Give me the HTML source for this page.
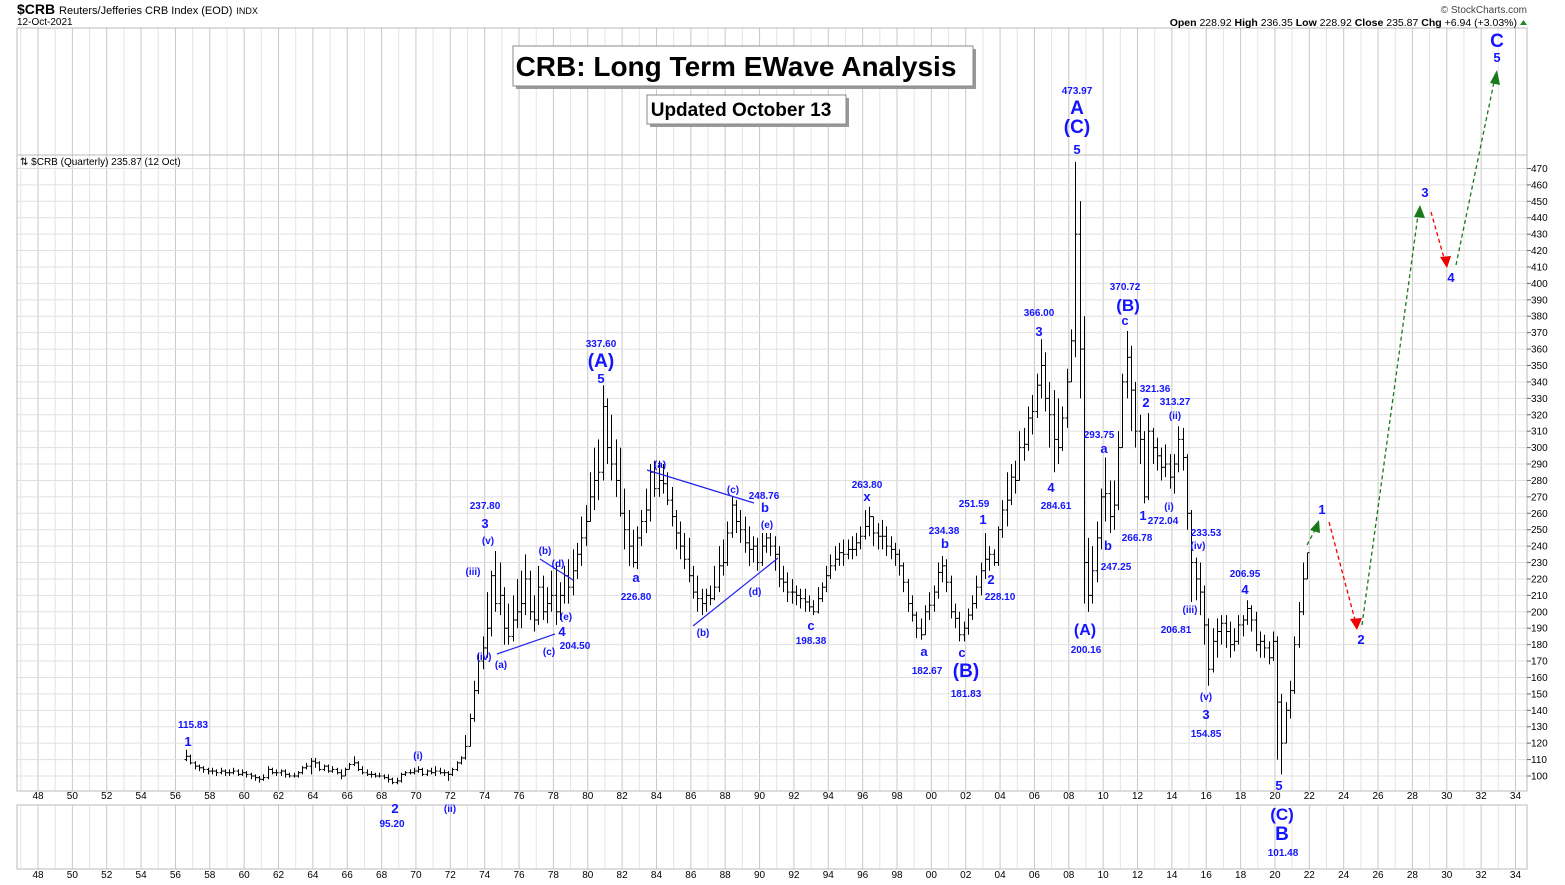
<!DOCTYPE html>
<html><head><meta charset="utf-8">
<style>
body{margin:0;background:#fff;}
svg{display:block;font-family:"Liberation Sans",Arial,sans-serif;}
.lb{fill:#1414ff;font-weight:bold;text-anchor:middle;}
.s{font-size:10px;}
.m{font-size:13px;}
.b{font-size:19px;}
</style></head><body>
<svg id="chart" width="1565" height="885" viewBox="0 0 1565 885">
<rect width="1565" height="885" fill="#fff"/>
<g id="grid"></g>
<rect x="17" y="28" width="1510" height="763" fill="none" stroke="#bbb"/>
<line x1="17" y1="155" x2="1527" y2="155" stroke="#bbb"/>
<rect x="17" y="805" width="1510" height="64" fill="none" stroke="#bbb"/>
<g id="axes"></g>
<g id="bars"></g>

<text x="17" y="14" font-size="14" font-weight="bold">$CRB <tspan font-size="11" font-weight="normal">Reuters/Jefferies CRB Index (EOD)</tspan> <tspan font-size="9" font-weight="normal">INDX</tspan></text>
<text x="17" y="25" font-size="10">12-Oct-2021</text>
<text x="1527" y="13" font-size="10" text-anchor="end" fill="#444">© StockCharts.com</text>
<text x="1517" y="26" font-size="10.5" text-anchor="end"><tspan font-weight="bold">Open</tspan> 228.92 <tspan font-weight="bold">High</tspan> 236.35 <tspan font-weight="bold">Low</tspan> 228.92 <tspan font-weight="bold">Close</tspan> 235.87 <tspan font-weight="bold">Chg</tspan> +6.94 (+3.03%)</text>
<polygon points="1520,25 1527,25 1523.5,20" fill="#1a8a1a"/>
<text x="20" y="165" font-size="10">⇅ $CRB (Quarterly) 235.87 (12 Oct)</text>

<rect x="516" y="49" width="460" height="40" fill="#999"/>
<rect x="513" y="46" width="460" height="40" fill="#fff" stroke="#888"/>
<text x="736" y="76" font-size="28" font-weight="bold" text-anchor="middle">CRB: Long Term EWave Analysis</text>
<rect x="650" y="98" width="199" height="29" fill="#999"/>
<rect x="647" y="95" width="199" height="29" fill="#fff" stroke="#888"/>
<text x="741" y="116" font-size="19" font-weight="bold" text-anchor="middle">Updated October 13</text>

<g stroke="#2222ee" stroke-width="1.2">
<line x1="497" y1="654" x2="555" y2="634"/><line x1="540" y1="559" x2="573" y2="580"/>
<line x1="647" y1="470" x2="754" y2="503"/><line x1="693" y1="626" x2="778" y2="558"/>
</g>
<g fill="none" stroke-width="1.3" stroke-dasharray="4,3">
<line x1="1307" y1="545" x2="1316" y2="528" stroke="#1a7a1a"/>
<line x1="1329" y1="522" x2="1355" y2="620" stroke="#e00"/>
<line x1="1362" y1="625" x2="1418" y2="215" stroke="#1a7a1a"/>
<line x1="1431" y1="212" x2="1444" y2="258" stroke="#e00"/>
<line x1="1456" y1="265" x2="1494" y2="82" stroke="#1a7a1a"/>
</g>
<g>
<polygon points="1319,520 1310,530 1320,533" fill="#1a7a1a"/>
<polygon points="1357,630 1350,619 1362,618" fill="#e00"/>
<polygon points="1420,205 1414,217 1425,218" fill="#1a7a1a"/>
<polygon points="1447,268 1440,257 1451,256" fill="#e00"/>
<polygon points="1497,70 1490,83 1500,85" fill="#1a7a1a"/>
</g>

<g>
<text class="lb s" x="193" y="728">115.83</text><text class="lb m" x="188" y="746">1</text>
<text class="lb m" x="395" y="813">2</text><text class="lb s" x="392" y="827">95.20</text>
<text class="lb s" x="418" y="759">(i)</text><text class="lb s" x="450" y="812">(ii)</text>
<text class="lb s" x="473" y="575">(iii)</text><text class="lb s" x="485" y="509">237.80</text><text class="lb m" x="485" y="528">3</text>
<text class="lb s" x="488" y="544">(v)</text><text class="lb s" x="484" y="660">(iv)</text><text class="lb s" x="501" y="668">(a)</text>
<text class="lb s" x="545" y="554">(b)</text><text class="lb s" x="558" y="567">(d)</text><text class="lb s" x="566" y="620">(e)</text>
<text class="lb m" x="562" y="636">4</text><text class="lb s" x="549" y="655">(c)</text><text class="lb s" x="575" y="649">204.50</text>
<text class="lb s" x="601" y="347">337.60</text><text class="lb b" x="601" y="367">(A)</text><text class="lb m" x="601" y="383">5</text>
<text class="lb m" x="636" y="582">a</text><text class="lb s" x="636" y="600">226.80</text>
<text class="lb s" x="660" y="468">(a)</text><text class="lb s" x="703" y="636">(b)</text><text class="lb s" x="733" y="493">(c)</text>
<text class="lb s" x="764" y="499">248.76</text><text class="lb m" x="765" y="512">b</text><text class="lb s" x="767" y="528">(e)</text><text class="lb s" x="755" y="595">(d)</text>
<text class="lb m" x="811" y="630">c</text><text class="lb s" x="811" y="644">198.38</text>
<text class="lb s" x="867" y="488">263.80</text><text class="lb m" x="867" y="501">x</text>
<text class="lb m" x="924" y="656">a</text><text class="lb s" x="927" y="674">182.67</text>
<text class="lb s" x="944" y="534">234.38</text><text class="lb m" x="945" y="548">b</text>
<text class="lb m" x="962" y="657">c</text><text class="lb b" x="966" y="677">(B)</text><text class="lb s" x="966" y="697">181.83</text>
<text class="lb s" x="974" y="507">251.59</text><text class="lb m" x="983" y="524">1</text><text class="lb m" x="991" y="584">2</text><text class="lb s" x="1000" y="600">228.10</text>
<text class="lb s" x="1039" y="316">366.00</text><text class="lb m" x="1039" y="336">3</text><text class="lb m" x="1051" y="492">4</text><text class="lb s" x="1056" y="509">284.61</text>
<text class="lb s" x="1077" y="94">473.97</text><text class="lb b" x="1077" y="114">A</text><text class="lb b" x="1077" y="133">(C)</text><text class="lb m" x="1077" y="154">5</text>
<text class="lb" font-size="16" x="1085" y="635">(A)</text><text class="lb s" x="1086" y="653">200.16</text>
<text class="lb s" x="1099" y="438">293.75</text><text class="lb m" x="1104" y="453">a</text><text class="lb m" x="1108" y="550">b</text>
<text class="lb s" x="1116" y="570">247.25</text><text class="lb s" x="1137" y="541">266.78</text>
<text class="lb s" x="1125" y="290">370.72</text><text class="lb" font-size="17" x="1128" y="311">(B)</text><text class="lb m" x="1125" y="325">c</text>
<text class="lb s" x="1155" y="392">321.36</text><text class="lb m" x="1146" y="407">2</text><text class="lb s" x="1175" y="405">313.27</text><text class="lb s" x="1175" y="419">(ii)</text>
<text class="lb m" x="1143" y="520">1</text><text class="lb s" x="1163" y="524">272.04</text><text class="lb s" x="1169" y="510">(i)</text>
<text class="lb s" x="1206" y="536">233.53</text><text class="lb s" x="1198" y="549">(iv)</text><text class="lb s" x="1190" y="613">(iii)</text><text class="lb s" x="1176" y="633">206.81</text>
<text class="lb s" x="1206" y="700">(v)</text><text class="lb m" x="1206" y="719">3</text><text class="lb s" x="1206" y="737">154.85</text>
<text class="lb s" x="1245" y="577">206.95</text><text class="lb m" x="1245" y="594">4</text>
<text class="lb m" x="1279" y="790">5</text><text class="lb" font-size="17" x="1282" y="820">(C)</text><text class="lb b" x="1282" y="840">B</text><text class="lb s" x="1283" y="856">101.48</text>
<text class="lb m" x="1322" y="514">1</text><text class="lb m" x="1361" y="644">2</text><text class="lb m" x="1425" y="197">3</text><text class="lb m" x="1451" y="282">4</text>
<text class="lb b" x="1497" y="47">C</text><text class="lb m" x="1497" y="62">5</text>
</g>
</svg>
<script>
// Quarterly bars starting 1956 Q3
const startYear = 1956.5;
const closes = [112,108,
106,105,104,103, 103,102,103,102, 102,103,101,102, 101,100,99,98, 99,104,102,102,
103,101,100,100, 102,105,106,109, 108,104,106,103, 104,102,100,104, 107,108,104,102,
101,101,100,100, 99,98,96,97, 101,102,102,103, 104,101,103,102, 103,102,102,101,
104,108,111,118, 135,152,170,178, 190,222,205,210, 190,185,195,200, 205,220,200,195,
215,200,205,210, 200,210,222,215, 225,235,245,255, 270,280,285,325, 300,290,280,260,
250,240,230,245, 255,262,285,275, 280,278,268,258, 248,240,232,222, 212,208,205,210,
208,215,228,230, 248,265,255,250, 242,238,240,230, 240,245,240,235, 220,218,212,212,
210,208,206,203, 200,208,215,222, 228,232,236,235, 238,238,242,246, 252,258,248,246,
246,240,238,235, 228,218,205,198, 190,186,200,204, 212,224,228,218, 200,196,186,190,
198,205,215,225, 232,235,230,250, 262,268,282,280, 300,302,318,322, 338,350,330,320,
305,300,318,340, 365,430,360,230, 210,225,245,270, 272,258,265,300, 340,355,335,310,
305,270,310,300, 295,288,290,282, 290,305,294,260, 230,220,212,192, 165,182,188,193,
188,180,182,192, 195,202,195,180, 182,178,172,182, 145,120,140,152, 180,200,220,236];
const highs = [116,113,
109,107,106,105, 105,104,105,104, 104,105,104,104, 103,102,101,100, 101,106,105,104,
104,104,102,102, 103,106,108,111, 111,109,107,107, 106,105,104,105, 108,112,109,106,
104,103,102,102, 101,101,99,99, 102,103,104,105, 106,105,104,105, 106,105,104,103,
105,109,112,125, 138,158,175,185, 212,225,237,230, 215,205,210,220, 225,235,225,210,
228,222,215,225, 230,218,228,232, 238,242,258,265, 285,300,305,338, 330,320,305,300,
275,262,250,252, 262,275,290,292, 292,290,285,276, 262,255,248,245, 228,222,214,214,
216,228,240,244, 255,270,268,262, 258,252,246,245, 248,248,248,246, 240,228,224,220,
216,214,214,210, 207,215,218,228, 235,240,242,244, 244,246,248,252, 262,264,258,254,
256,252,246,242, 238,230,220,210, 200,196,204,212, 216,230,234,232, 222,205,200,194,
202,210,222,230, 248,240,238,252, 268,285,290,292, 310,312,325,332, 345,366,358,340,
335,330,325,348, 372,474,450,380, 245,240,255,275, 294,280,280,310, 345,371,362,340,
320,310,321,312, 306,300,302,296, 296,313,312,296, 262,233,230,216, 196,190,196,198,
198,194,190,198, 198,207,204,200, 188,186,182,188, 185,150,145,158, 185,206,230,236];
const lows = [109,107,
104,103,102,101, 101,100,101,100, 100,101,100,100, 99,98,97,96, 97,98,101,100,
100,99,99,99, 99,101,104,101, 105,103,103,102, 102,101,98,100, 104,106,103,101,
100,99,99,99, 98,96,95,95, 96,100,101,101, 102,100,100,101, 100,101,100,97,
100,103,107,110, 118,133,150,165, 172,185,200,198, 180,180,182,190, 190,198,195,188,
192,195,193,200, 192,195,205,205, 210,220,228,240, 255,262,268,280, 290,280,270,258,
238,228,227,226, 240,248,255,270, 270,272,265,252, 238,232,226,218, 208,200,198,200,
204,207,212,222, 228,245,248,242, 236,228,230,225, 228,236,234,225, 215,212,206,205,
204,202,200,200, 198,199,206,212, 220,225,228,228, 232,232,234,238, 244,246,240,238,
238,234,232,228, 222,212,200,194, 184,183,186,195, 200,208,218,212, 196,190,182,182,
186,195,202,210, 220,225,228,228, 245,252,265,272, 280,292,298,308, 318,330,322,300,
285,290,298,312, 340,355,330,205, 200,205,218,238, 255,248,250,262, 300,330,310,300,
290,266,268,290, 286,280,282,275, 272,285,286,250, 206,207,198,180, 155,163,172,180,
178,172,176,180, 185,192,188,176, 172,172,168,170, 110,101,120,135, 150,178,198,220];
const firstOpen = 110;
const yTicks = [100,110,120,130,140,150,160,170,180,190,200,210,220,230,240,250,260,270,280,290,300,310,320,330,340,350,360,370,380,390,400,410,420,430,440,450,460,470];
const yearTicks = [48,50,52,54,56,58,60,62,64,66,68,70,72,74,76,78,80,82,84,86,88,90,92,94,96,98,0,2,4,6,8,10,12,14,16,18,20,22,24,26,28,30,32,34];

const NS = 'http://www.w3.org/2000/svg';
function X(year){ return 38 + (year - 1948) * 17.18; }
function Y(v){ return 776 - (v - 100) * 1.642; }
function mk(tag, attrs, parent){ const e = document.createElementNS(NS, tag); for (const k in attrs) e.setAttribute(k, attrs[k]); parent.appendChild(e); return e; }

const grid = document.getElementById('grid');
const axes = document.getElementById('axes');
const bars = document.getElementById('bars');

for (let yr = 1947; yr <= 2035; yr++) {
  const x = X(yr);
  if (x < 17 || x > 1527) continue;
  const major = yr % 2 === 0;
  const l1 = mk('line', {x1:x, y1:28, x2:x, y2:791, stroke: major ? '#c8c8c8' : '#e4e4e4'}, grid);
  
  
  const l2 = mk('line', {x1:x, y1:805, x2:x, y2:869, stroke: major ? '#c8c8c8' : '#e4e4e4'}, grid);
  
  
}
yTicks.forEach(v => {
  const y = Y(v);
  const g = mk('line', {x1:17, y1:y, x2:1527, y2:y, stroke:'#e0e0e0'}, grid);
  
  
  const t = mk('line', {x1:1527, y1:y, x2:1531, y2:y, stroke:'#666'}, axes);
  
  
  const tx = mk('text', {x:1531, y:y+3.5, 'font-size':10}, axes);
  tx.textContent = v;
  
  
});
yearTicks.forEach(t => {
  const full = t >= 48 ? 1900 + t : 2000 + t;
  const x = X(full);
  const lbl = (t < 10 ? '0' + t : '' + t);
  [799, 878].forEach(yy => {
    const tx = mk('text', {x:x, y:yy, 'font-size':10, 'text-anchor':'middle'}, axes);
    tx.textContent = lbl;
    
    
  });
});

let prev = firstOpen;
for (let i = 0; i < closes.length; i++) {
  const x = Math.round(X(startYear + i * 0.25 + 0.125)) + 0.5;
  const g = mk('g', {stroke:'#000', 'stroke-width':1}, bars);
  
  
  mk('line', {x1:x, y1:Y(highs[i]), x2:x, y2:Y(lows[i])}, g);
  mk('line', {x1:x-2, y1:Y(prev), x2:x, y2:Y(prev)}, g);
  mk('line', {x1:x, y1:Y(closes[i]), x2:x+2, y2:Y(closes[i])}, g);
  prev = closes[i];
}
</script>
</body></html>
